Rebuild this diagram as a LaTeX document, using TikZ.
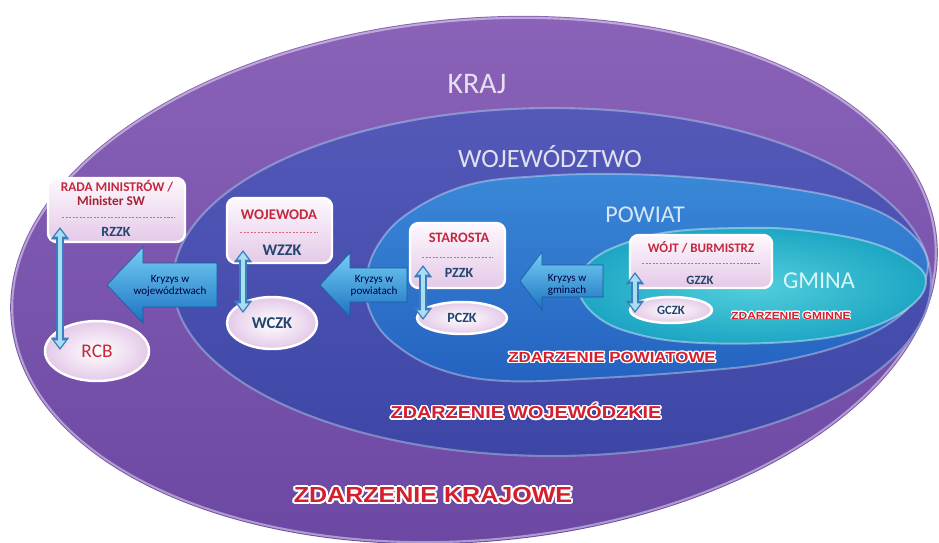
\documentclass[tikz,border=0pt]{standalone}
\usepackage{fontspec}
\setmainfont{Carlito}
\newfontfamily\libsans{Liberation Sans}
\usepackage{contour}
\usetikzlibrary{arrows.meta,shapes.geometric,calc}
\definecolor{krajA}{HTML}{8A62B8}
\definecolor{krajB}{HTML}{6A47A2}
\definecolor{wojA}{HTML}{5459B8}
\definecolor{wojB}{HTML}{3D46A6}
\definecolor{powA}{HTML}{3A88D8}
\definecolor{powB}{HTML}{2462C0}
\definecolor{gmA}{HTML}{52CFDC}
\definecolor{gmB}{HTML}{1EA6C4}
\definecolor{zred}{HTML}{D41F2E}
\definecolor{tred}{HTML}{C4283E}
\definecolor{tblue}{HTML}{23466E}
\definecolor{arrA}{HTML}{74CEF4}
\definecolor{arrB}{HTML}{1C72C2}
\definecolor{dblO}{HTML}{3B7EBE}
\definecolor{dblI}{HTML}{A8DDF2}
\definecolor{boxA}{HTML}{FDF8FD}
\definecolor{boxB}{HTML}{E4C9E8}
\def\pxw{0.02cm}
\begin{document}
\begin{tikzpicture}[x=0.02cm,y=-0.02cm,
  area/.style={font=\fontsize{#1}{#1}\selectfont, anchor=base, inner sep=0pt},
  zbox/.style={rounded corners=5pt, draw=white, line width=1.4pt,
    top color=boxA, bottom color=boxB, inner sep=0pt},
  cell/.style={ellipse, draw=white, line width=1.4pt, inner color=white,
    outer color=boxB, inner sep=0pt},
  ttl/.style={text=tred, font=\bfseries\fontsize{#1}{#1}\selectfont, inner sep=0pt},
  code/.style={text=tblue, font=\bfseries\fontsize{#1}{#1}\selectfont, inner sep=0pt},
  sep/.style={tred!70, dashed, dash pattern=on 1.2pt off 0.8pt, line width=0.5pt},
  blk/.style={top color=arrA, bottom color=arrB, draw=arrB!80!black, line width=0.3pt},
  blktxt/.style={text=black!75!blue, font=\fontsize{6.3}{7.2}\selectfont, align=center, inner sep=0pt},
  dbl/.style={dblO, line width=4.2pt, {Triangle[width=10pt,length=7pt]}-{Triangle[width=10pt,length=7pt]}},
  dblin/.style={dblI, line width=2.2pt, {Triangle[width=6pt,length=4.2pt]}-{Triangle[width=6pt,length=4.2pt]}, shorten <=1.3pt, shorten >=1.3pt},
  zd/.style={text=zred, font=\libsans\bfseries\fontsize{#1}{#1}\selectfont, inner sep=0pt}
]
\useasboundingbox (0,0) rectangle (939,542);
\clip (0,0) rectangle (939,542);

% KRAJ
\shade[top color=krajA, bottom color=krajB, rotate around={5:(474,280)}]
  (474,280) ellipse [x radius=465, y radius=262];
\draw[white, opacity=0.45, line width=1.2pt, rotate around={5:(474,280)}]
  (474,280) ellipse [x radius=463, y radius=260];
% WOJEWODZTWO
\shade[top color=wojA, bottom color=wojB] (552,282) ellipse [x radius=380, y radius=175];
\draw[white, opacity=0.35, line width=1.2pt] (552,282) ellipse [x radius=379, y radius=174];
% POWIAT
\shade[top color=powA, bottom color=powB]
  plot[smooth cycle, tension=0.65] coordinates {(366,282) (378,245) (410,212) (468,185)
  (540,176) (620,174) (700,178) (780,187) (850,201) (900,224) (927,258) (918,294)
  (890,323) (840,346) (770,363) (700,371) (600,378) (505,381) (442,370) (396,345) (372,316)};
\draw[white, opacity=0.35, line width=1.1pt]
  plot[smooth cycle, tension=0.65] coordinates {(366,282) (378,245) (410,212) (468,185)
  (540,176) (620,174) (700,178) (780,187) (850,201) (900,224) (927,258) (918,294)
  (890,323) (840,346) (770,363) (700,371) (600,378) (505,381) (442,370) (396,345) (372,316)};
% GMINA
\shade[inner color=gmA, outer color=gmB]
  plot[smooth cycle, tension=0.65] coordinates {(577,285) (590,262) (620,245) (669,232)
  (740,228) (800,230) (869,242) (912,262) (926,281) (912,305) (869,328) (800,341)
  (702,343) (636,334) (595,315)};
\draw[white, opacity=0.4, line width=1.1pt]
  plot[smooth cycle, tension=0.65] coordinates {(577,285) (590,262) (620,245) (669,232)
  (740,228) (800,230) (869,242) (912,262) (926,281) (912,305) (869,328) (800,341)
  (702,343) (636,334) (595,315)};

% area names
\node[area=17, text=krajA!20!white] (tkraj) at (477,93) {KRAJ};
\node[area=15, text=wojA!18!white] (twoj) at (550,167) {WOJEWÓDZTWO};
\node[area=13.7, text=powA!20!white] (tpow) at (645,222) {POWIAT};
\node[area=13.8, text=gmA!22!white] (tgm) at (819,288) {GMINA};

% block arrows
\path[blk] (107,285) -- (143,247) -- (143,263) -- (217,263) -- (217,307) -- (143,307) -- (143,323) -- cycle;
\node[blktxt] (k1) at (170,286) {Kryzys w\\województwach};
\path[blk] (320,285) -- (350,253) -- (350,268) -- (407,268) -- (407,302) -- (350,302) -- (350,317) -- cycle;
\node[blktxt] (k2) at (374,286) {Kryzys w\\powiatach};
\path[blk] (520,281) -- (542,252) -- (542,265) -- (603,265) -- (603,297) -- (542,297) -- (542,310) -- cycle;
\node[blktxt] (k3) at (567,285) {Kryzys w\\gminach};

% boxes
\node[zbox, minimum width={137*\pxw}, minimum height={64*\pxw}] (rada) at (116.5,210) {};
\node[zbox, minimum width={105*\pxw}, minimum height={65*\pxw}] (woj) at (279.5,230.5) {};
\node[zbox, minimum width={95*\pxw}, minimum height={65*\pxw}] (star) at (457.5,255.5) {};
\node[zbox, minimum width={142*\pxw}, minimum height={53*\pxw}] (wojt) at (701,261.5) {};

\node[ttl=7.6] (r1) at (117,186) {RADA MINISTRÓW /};
\node[ttl=7.6, text=tred!85!black] (r2) at (111,201) {Minister SW};
\draw[sep] (62,217) -- (175,217);
\node[code=8] (rzzk) at (116,232) {RZZK};

\node[ttl=8.4] (w1) at (279,215) {WOJEWODA};
\draw[sep] (240,232) -- (318,232);
\node[code=9.2] (wzzk) at (282,250) {WZZK};

\node[ttl=8.2] (s1) at (459,238) {STAROSTA};
\draw[sep] (422,257) -- (493,257);
\node[code=8] (pzzk) at (459,273) {PZZK};

\node[ttl=7.4] (g1) at (701,247) {WÓJT / BURMISTRZ};
\draw[sep] (642,263) -- (760,263);
\node[code=7.2] (gzzk) at (700,280) {GZZK};

% ellipse cells
\node[cell, minimum width={104*\pxw}, minimum height={60*\pxw}, text=tred,
  font=\fontsize{11}{11}\selectfont] (rcb) at (97,351) {RCB};
\node[cell, minimum width={90*\pxw}, minimum height={52*\pxw}, text=tblue,
  font=\bfseries\fontsize{9.4}{9.4}\selectfont] (wczk) at (272,323) {WCZK};
\node[cell, minimum width={90*\pxw}, minimum height={32*\pxw}, text=tblue,
  font=\bfseries\fontsize{8}{8}\selectfont] (pczk) at (462,318) {PCZK};
\node[cell, minimum width={82*\pxw}, minimum height={26*\pxw}, text=tblue,
  font=\bfseries\fontsize{7.2}{7.2}\selectfont] (gczk) at (671,310) {GCZK};

% double arrows
\coordinate (a1) at (60,227);  \coordinate (b1) at (60,350);
\coordinate (a2) at (243,250); \coordinate (b2) at (243,313);
\coordinate (a3) at (423,265); \coordinate (b3) at (423,320);
\coordinate (a4) at (635,272); \coordinate (b4) at (635,313);
\foreach \i in {1,2,3,4}{
  \draw[dbl] (a\i) -- (b\i);
  \draw[dblin] (a\i) -- (b\i);
}

% event labels
\contourlength{0.45pt}
\node[zd=5.9] (zg) at (791,316) {\scalebox{1.15}[1]{\contour{white}{ZDARZENIE GMINNE}}};
\contourlength{0.7pt}
\node[zd=8.35] (zp) at (612,358) {\scalebox{1.15}[1]{\contour{white}{ZDARZENIE POWIATOWE}}};
\contourlength{0.8pt}
\node[zd=9.8] (zw) at (526,412) {\scalebox{1.15}[1]{\contour{white}{ZDARZENIE WOJEWÓDZKIE}}};
\contourlength{1pt}
\node[zd=12.4] (zk) at (433,496) {\scalebox{1.15}[1]{\contour{white}{ZDARZENIE KRAJOWE}}};
\end{tikzpicture}
\end{document}
